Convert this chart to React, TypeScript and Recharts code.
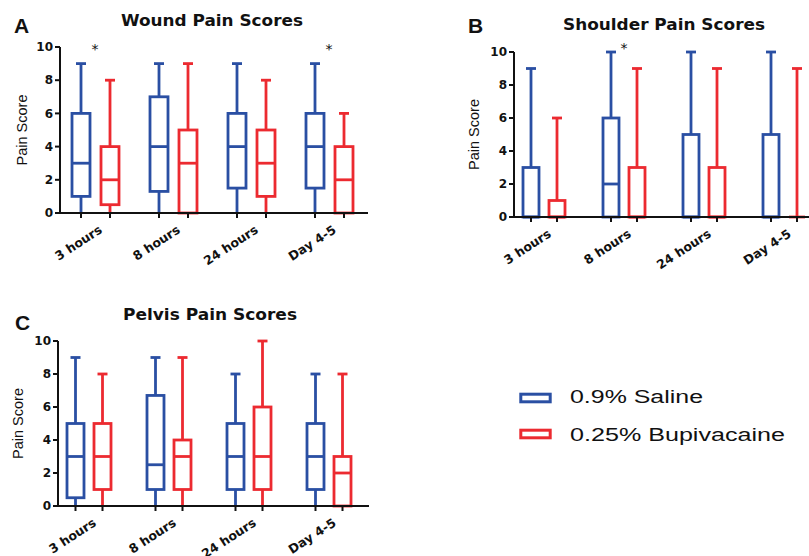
import React from "react";
import { BarChart, Bar, XAxis, YAxis, ReferenceDot } from "recharts";

const timepoints = ["3 hours", "8 hours", "24 hours", "Day 4-5"];
const seriesNames = ["0.9% Saline", "0.25% Bupivacaine"];
const seriesColors = ["#2a4fa3", "#ec2a30"];
const yTicks = [0, 2, 4, 6, 8, 10];

// five-number summaries: [min, q1, median, q3, max] per time point
const woundSaline = [[0, 1, 3, 6, 9], [0, 1.3, 4, 7, 9], [0, 1.5, 4, 6, 9], [0, 1.5, 4, 6, 9]];
const woundBupi = [[0, 0.5, 2, 4, 8], [0, 0, 3, 5, 9], [0, 1, 3, 5, 8], [0, 0, 2, 4, 6]];
const shoulderSaline = [[0, 0, 0, 3, 9], [0, 0, 2, 6, 10], [0, 0, 0, 5, 10], [0, 0, 0, 5, 10]];
const shoulderBupi = [[0, 0, 0, 1, 6], [0, 0, 0, 3, 9], [0, 0, 0, 3, 9], [0, 0, 0, 0, 9]];
const pelvisSaline = [[0, 0.5, 3, 5, 9], [0, 1, 2.5, 6.7, 9], [0, 1, 3, 5, 8], [0, 1, 3, 5, 8]];
const pelvisBupi = [[0, 1, 3, 5, 8], [0, 1, 3, 4, 9], [0, 1, 3, 6, 10], [0, 0, 2, 3, 8]];

// significance markers (*)
const woundStars = ["3 hours", "Day 4-5"];
const shoulderStars = ["8 hours"];
const pelvisStars: string[] = [];

const buildRows = (a: number[][], b: number[][]) =>
  timepoints.map((name, i) => ({ name, a: a[i], b: b[i] }));

const makeBox = (key: "a" | "b", color: string) => (props: any) => {
  const { x, y, width, height, payload, background } = props;
  const s: number[] = payload[key];
  const top = Math.min(y, y + height);
  const bottom = Math.max(y, y + height);
  const span = s[4] - s[0] || 1;
  const py = (v: number) => bottom - ((v - s[0]) / span) * (bottom - top);
  const cx = x + width / 2;
  const base = background ? background.y + background.height : bottom;
  const sw = 2.8;
  const cap = 5;
  return (
    <g>
      <line x1={cx} x2={cx} y1={py(s[4])} y2={py(s[3])} stroke={color} strokeWidth={sw} />
      <line x1={cx} x2={cx} y1={py(s[1])} y2={py(s[0])} stroke={color} strokeWidth={sw} />
      <line x1={cx - cap} x2={cx + cap} y1={py(s[4])} y2={py(s[4])} stroke={color} strokeWidth={sw} />
      {s[0] > 0 && (
        <line x1={cx - cap} x2={cx + cap} y1={py(s[0])} y2={py(s[0])} stroke={color} strokeWidth={sw} />
      )}
      <rect x={x} y={py(s[3])} width={width} height={py(s[1]) - py(s[3])} fill="#fff" stroke={color} strokeWidth={sw} />
      <line x1={x} x2={x + width} y1={py(s[2])} y2={py(s[2])} stroke={color} strokeWidth={sw} />
      <line x1={cx} x2={cx} y1={base} y2={base + 5} stroke="#111" strokeWidth={2} />
    </g>
  );
};

const AngledTick = (props: any) => {
  const { x, y, payload } = props;
  const tx = x + 8;
  const ty = y + 19;
  return (
    <text
      x={tx}
      y={ty}
      transform={`rotate(-33 ${tx} ${ty})`}
      textAnchor="end"
      fontFamily="DejaVu Sans"
      fontWeight="bold"
      fontSize={12.5}
      fill="#111"
    >
      {payload.value}
    </text>
  );
};

const Star = (props: any) => {
  const { viewBox } = props;
  const cx = viewBox ? viewBox.x + (viewBox.width || 0) / 2 : 0;
  const cy = viewBox ? viewBox.y + (viewBox.height || 0) / 2 : 0;
  return (
    <text x={cx} y={cy + 9} textAnchor="middle" fontFamily="DejaVu Sans" fontSize={14} fill="#111">
      *
    </text>
  );
};

type PanelProps = {
  rows: any[];
  stars: string[];
  starLevel: number;
  width: number;
  height: number;
  margin: { top: number; right: number; bottom: number; left: number };
  yWidth: number;
  padLeft: number;
  labelDx: number;
  barSize: number;
  barGap: number;
};

const Panel = (p: PanelProps) => (
  <BarChart width={p.width} height={p.height} data={p.rows} margin={p.margin} barSize={p.barSize} barGap={p.barGap}>
    <XAxis
      dataKey="name"
      interval={0}
      height={30}
      padding={{ left: p.padLeft, right: 0 }}
      tickLine={false}
      tickSize={0}
      tickMargin={0}
      axisLine={{ stroke: "#111", strokeWidth: 2 }}
      tick={<AngledTick />}
    />
    <YAxis
      domain={[0, 10]}
      ticks={yTicks}
      width={p.yWidth}
      tickSize={5}
      tickMargin={2}
      axisLine={{ stroke: "#111", strokeWidth: 2 }}
      tickLine={{ stroke: "#111", strokeWidth: 2 }}
      tick={{ fill: "#111", fontSize: 12, fontWeight: "bold", fontFamily: "DejaVu Sans" }}
      label={{
        value: "Pain Score",
        angle: -90,
        position: "center",
        dx: p.labelDx,
        style: { fill: "#111", fontSize: 14.5, fontFamily: "Liberation Sans, Arial", textAnchor: "middle" },
      }}
    />
    <Bar dataKey={(r: any) => [r.a[0], r.a[4]]} name={seriesNames[0]} fill={seriesColors[0]} isAnimationActive={false} shape={makeBox("a", seriesColors[0])} />
    <Bar dataKey={(r: any) => [r.b[0], r.b[4]]} name={seriesNames[1]} fill={seriesColors[1]} isAnimationActive={false} shape={makeBox("b", seriesColors[1])} />
    {p.stars.map((s) => (
      <ReferenceDot
        key={s}
        x={s}
        y={p.starLevel}
        r={0}
        fill="none"
        stroke="none"
        ifOverflow="visible"
        label={<Star />}
      />
    ))}
  </BarChart>
);

const titleStyle = { fontFamily: "DejaVu Sans", fontWeight: "bold" as const, fontSize: 15, fill: "#111" };
const letterStyle = { fontFamily: "Liberation Sans, Arial", fontWeight: "bold" as const, fontSize: 21, fill: "#111" };

export default function App() {
  return (
    <div style={{ position: "absolute", left: 0, top: 0, width: 809, height: 556, overflow: "hidden", background: "#fff" }}>
      <div style={{ position: "absolute", left: 0, top: 0 }}>
        <Panel
          rows={buildRows(woundSaline, woundBupi)}
          stars={woundStars}
          starLevel={10.1}
          width={400}
          height={270}
          margin={{ top: 47, right: 32, bottom: 27, left: 0 }}
          yWidth={60}
          padLeft={-4}
          labelDx={-8}
          barSize={18}
          barGap={11}
        />
      </div>
      <div style={{ position: "absolute", left: 400, top: 0 }}>
        <Panel
          rows={buildRows(shoulderSaline, shoulderBupi)}
          stars={shoulderStars}
          starLevel={10.5}
          width={430}
          height={270}
          margin={{ top: 52, right: 6, bottom: 23, left: 54 }}
          yWidth={60}
          padLeft={-10}
          labelDx={-10}
          barSize={16}
          barGap={10}
        />
      </div>
      <div style={{ position: "absolute", left: 0, top: 290 }}>
        <Panel
          rows={buildRows(pelvisSaline, pelvisBupi)}
          stars={pelvisStars}
          starLevel={10.1}
          width={400}
          height={266}
          margin={{ top: 51, right: 31, bottom: 20, left: 0 }}
          yWidth={58}
          padLeft={-9}
          labelDx={-11}
          barSize={17}
          barGap={10}
        />
      </div>
      <svg width={809} height={556} style={{ position: "absolute", left: 0, top: 0, pointerEvents: "none" }}>
        <text x={14} y={33} style={letterStyle}>A</text>
        <text x={468} y={33} style={letterStyle}>B</text>
        <text x={15} y={330} style={letterStyle}>C</text>
        <text x={121} y={26} textLength={182} lengthAdjust="spacingAndGlyphs" style={titleStyle}>Wound Pain Scores</text>
        <text x={563} y={30} textLength={202} lengthAdjust="spacingAndGlyphs" style={titleStyle}>Shoulder Pain Scores</text>
        <text x={123} y={320} textLength={174} lengthAdjust="spacingAndGlyphs" style={titleStyle}>Pelvis Pain Scores</text>
        {seriesNames.map((name, i) => (
          <g key={name}>
            <rect x={520.8} y={394.2 + i * 36} width={29.4} height={7.6} fill="#fff" stroke={seriesColors[i]} strokeWidth={3} />
            <text
              x={570}
              y={403 + i * 38}
              textLength={i === 0 ? 133 : 215}
              lengthAdjust="spacingAndGlyphs"
              style={{ fontFamily: "Liberation Sans, Arial", fontSize: 17.5, fill: "#111" }}
            >
              {name}
            </text>
          </g>
        ))}
      </svg>
    </div>
  );
}
